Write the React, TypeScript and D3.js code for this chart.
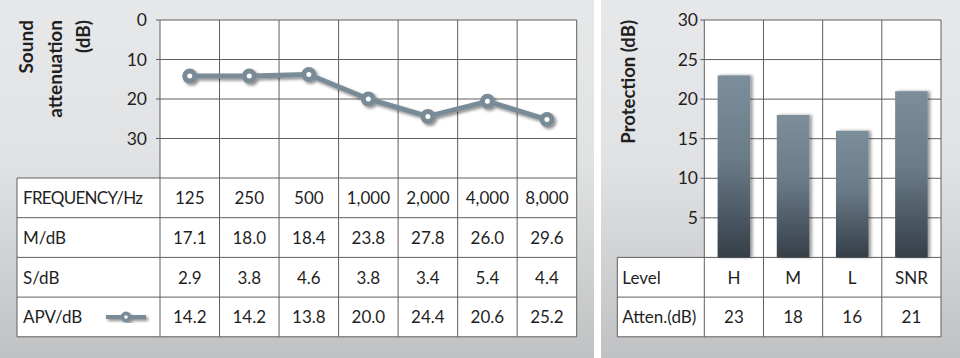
import React from "react";
import * as d3 from "d3";

const frequencies = ["125", "250", "500", "1,000", "2,000", "4,000", "8,000"];
const mValues = [17.1, 18.0, 18.4, 23.8, 27.8, 26.0, 29.6];
const sValues = [2.9, 3.8, 4.6, 3.8, 3.4, 5.4, 4.4];
const apvValues = [14.2, 14.2, 13.8, 20.0, 24.4, 20.6, 25.2];
const leftTicks = [0, 10, 20, 30];
const rowLabels = ["FREQUENCY/Hz", "M/dB", "S/dB", "APV/dB"];

const levels = ["H", "M", "L", "SNR"];
const attenValues = [23, 18, 16, 21];
const rightTicks = [5, 10, 15, 20, 25, 30];
const rightRowLabels = ["Level", "Atten.(dB)"];

const FONT = "Lato, 'Open Sans', sans-serif";
const TEXT = "#1f1f1f";
const GRID = "#5f5f5f";
const LINE = "#7a8b98";

export default function App() {
  const W = 960;
  const H = 358;

  const L = { x0: 160, x1: 576.7, top: 20, tableTop: 178, tableLeft: 17, rowH: 39.7 };
  const xL = d3.scaleBand<string>().domain(frequencies).range([L.x0, L.x1]).padding(0);
  const yL = d3.scaleLinear().domain([0, 40]).range([L.top, L.tableTop]);
  const lineGen = d3
    .line<number>()
    .x((_, i) => (xL(frequencies[i]) as number) + xL.bandwidth() / 2)
    .y((d) => yL(d));
  const leftRows = [frequencies, mValues.map((v) => v.toFixed(1)), sValues.map((v) => v.toFixed(1)), apvValues.map((v) => v.toFixed(1))];
  const leftTableBottom = L.tableTop + L.rowH * 4;

  const R = { x0: 704.3, x1: 941, top: 20, tableTop: 257.4, tableLeft: 617.3, rowH: 39.7 };
  const xR = d3.scaleBand<string>().domain(levels).range([R.x0, R.x1]).padding(0);
  const yR = d3.scaleLinear().domain([0, 30]).range([R.tableTop, R.top]);
  const barW = xR.bandwidth() * 0.55;
  const rightRows = [levels, attenValues.map((v) => String(v))];
  const rightTableBottom = R.tableTop + R.rowH * 2;

  return (
    <svg width={W} height={H} style={{ position: "absolute", left: 0, top: 0 }} fontFamily={FONT}>
      <defs>
        <linearGradient id="panelBg" x1="0" y1="0" x2="0" y2="1">
          <stop offset="0" stopColor="#e7e8ea" />
          <stop offset="0.45" stopColor="#e1e2e4" />
          <stop offset="1" stopColor="#c0c1c3" />
        </linearGradient>
        <linearGradient id="barGrad" x1="0" y1="0" x2="0" y2="1">
          <stop offset="0" stopColor="#7c8e9b" />
          <stop offset="0.45" stopColor="#6b7c89" />
          <stop offset="1" stopColor="#353f48" />
        </linearGradient>
        <filter id="shadow" x="-30%" y="-30%" width="160%" height="160%">
          <feDropShadow dx="2" dy="2" stdDeviation="1.6" floodColor="#000" floodOpacity="0.45" />
        </filter>
        <filter id="barShadow" x="-30%" y="-10%" width="160%" height="120%">
          <feDropShadow dx="2.5" dy="0" stdDeviation="1.8" floodColor="#000" floodOpacity="0.4" />
        </filter>
      </defs>

      <rect x={0} y={0} width={W} height={H} fill="#ffffff" />
      <rect x={0} y={0} width={594} height={H} fill="url(#panelBg)" />
      <rect x={601} y={0} width={W - 601} height={H} fill="url(#panelBg)" />

      {/* ===== LEFT CHART ===== */}
      <rect x={L.x0} y={L.top} width={L.x1 - L.x0} height={L.tableTop - L.top} fill="#fff" />
      <rect x={L.tableLeft} y={L.tableTop} width={L.x1 - L.tableLeft} height={leftTableBottom - L.tableTop} fill="#fff" />
      {leftTicks.map((t) => (
        <line key={"hl" + t} x1={L.x0 - 4} x2={L.x1} y1={yL(t)} y2={yL(t)} stroke={GRID} strokeWidth={1} />
      ))}
      {d3.range(5).map((i) => (
        <line key={"tr" + i} x1={L.tableLeft} x2={L.x1} y1={L.tableTop + i * L.rowH} y2={L.tableTop + i * L.rowH} stroke={GRID} strokeWidth={1} />
      ))}
      {frequencies.map((f) => (
        <line key={"vl" + f} x1={xL(f) as number} x2={xL(f) as number} y1={L.top} y2={leftTableBottom} stroke={GRID} strokeWidth={1} />
      ))}
      <line x1={L.x1} x2={L.x1} y1={L.top} y2={leftTableBottom} stroke={GRID} strokeWidth={1} />
      <line x1={L.tableLeft} x2={L.tableLeft} y1={L.tableTop} y2={leftTableBottom} stroke={GRID} strokeWidth={1} />

      {leftTicks.map((t) => (
        <text key={"tl" + t} x={147} y={yL(t) + 6} textAnchor="end" fontSize={17.5} fill={TEXT}>
          {t}
        </text>
      ))}

      {["Sound", "attenuation", "(dB)"].map((s, i) => (
        <text
          key={"at" + s}
          transform={`translate(${33 + i * 28.5},20) rotate(-90)`}
          textAnchor="end"
          fontSize={19}
          fontWeight={700}
          fill={TEXT}
        >
          {s}
        </text>
      ))}

      <g filter="url(#shadow)">
        <path d={lineGen(apvValues) || ""} fill="none" stroke={LINE} strokeWidth={5} strokeLinejoin="round" />
        {apvValues.map((v, i) => (
          <circle
            key={"pt" + i}
            cx={(xL(frequencies[i]) as number) + xL.bandwidth() / 2}
            cy={yL(v)}
            r={5}
            fill="#fff"
            stroke={LINE}
            strokeWidth={5}
          />
        ))}
      </g>

      {rowLabels.map((lab, r) => (
        <text
          key={"rl" + r}
          x={L.tableLeft + 6}
          y={L.tableTop + r * L.rowH + L.rowH / 2 + 6.5}
          fontSize={17}
          letterSpacing={r === 0 ? -0.7 : 0}
          fill={TEXT}
        >
          {lab}
        </text>
      ))}
      {leftRows.map((row, r) =>
        row.map((val, c) => (
          <text
            key={"cv" + r + "-" + c}
            x={(xL(frequencies[c]) as number) + xL.bandwidth() / 2}
            y={L.tableTop + r * L.rowH + L.rowH / 2 + 6.5}
            textAnchor="middle"
            fontSize={17}
            fill={TEXT}
          >
            {val}
          </text>
        ))
      )}
      <g filter="url(#shadow)">
        <line x1={106} x2={146} y1={L.tableTop + 3.5 * L.rowH} y2={L.tableTop + 3.5 * L.rowH} stroke={LINE} strokeWidth={4} />
        <circle cx={126} cy={L.tableTop + 3.5 * L.rowH} r={3.6} fill="#fff" stroke={LINE} strokeWidth={3.6} />
      </g>

      {/* ===== RIGHT CHART ===== */}
      <rect x={R.x0} y={R.top} width={R.x1 - R.x0} height={R.tableTop - R.top} fill="#fff" />
      <rect x={R.tableLeft} y={R.tableTop} width={R.x1 - R.tableLeft} height={rightTableBottom - R.tableTop} fill="#fff" />
      {rightTicks.map((t) => (
        <line key={"hr" + t} x1={R.x0 - 4} x2={R.x1} y1={yR(t)} y2={yR(t)} stroke={GRID} strokeWidth={1} />
      ))}
      {d3.range(3).map((i) => (
        <line key={"rtr" + i} x1={R.tableLeft} x2={R.x1} y1={R.tableTop + i * R.rowH} y2={R.tableTop + i * R.rowH} stroke={GRID} strokeWidth={1} />
      ))}
      {levels.map((lv) => (
        <line key={"rv" + lv} x1={xR(lv) as number} x2={xR(lv) as number} y1={R.top} y2={rightTableBottom} stroke={GRID} strokeWidth={1} />
      ))}
      <line x1={R.x1} x2={R.x1} y1={R.top} y2={rightTableBottom} stroke={GRID} strokeWidth={1} />
      <line x1={R.tableLeft} x2={R.tableLeft} y1={R.tableTop} y2={rightTableBottom} stroke={GRID} strokeWidth={1} />

      {rightTicks.map((t) => (
        <text key={"rtl" + t} x={698} y={yR(t) + 6} textAnchor="end" fontSize={17.5} fill={TEXT}>
          {t}
        </text>
      ))}
      <text transform={`translate(635,20) rotate(-90)`} textAnchor="end" fontSize={18.5} fontWeight={700} fill={TEXT}>
        Protection (dB)
      </text>

      {attenValues.map((v, i) => (
        <rect
          key={"bar" + i}
          x={(xR(levels[i]) as number) + (xR.bandwidth() - barW) / 2}
          y={yR(v)}
          width={barW}
          height={yR(0) - yR(v)}
          fill="url(#barGrad)"
          filter="url(#barShadow)"
        />
      ))}

      {rightRowLabels.map((lab, r) => (
        <text key={"rrl" + r} x={R.tableLeft + 5} y={R.tableTop + r * R.rowH + R.rowH / 2 + 6.5} fontSize={17} fill={TEXT}>
          {lab}
        </text>
      ))}
      {rightRows.map((row, r) =>
        row.map((val, c) => (
          <text
            key={"rc" + r + "-" + c}
            x={(xR(levels[c]) as number) + xR.bandwidth() / 2}
            y={R.tableTop + r * R.rowH + R.rowH / 2 + 6.5}
            textAnchor="middle"
            fontSize={17}
            fill={TEXT}
          >
            {val}
          </text>
        ))
      )}
    </svg>
  );
}
